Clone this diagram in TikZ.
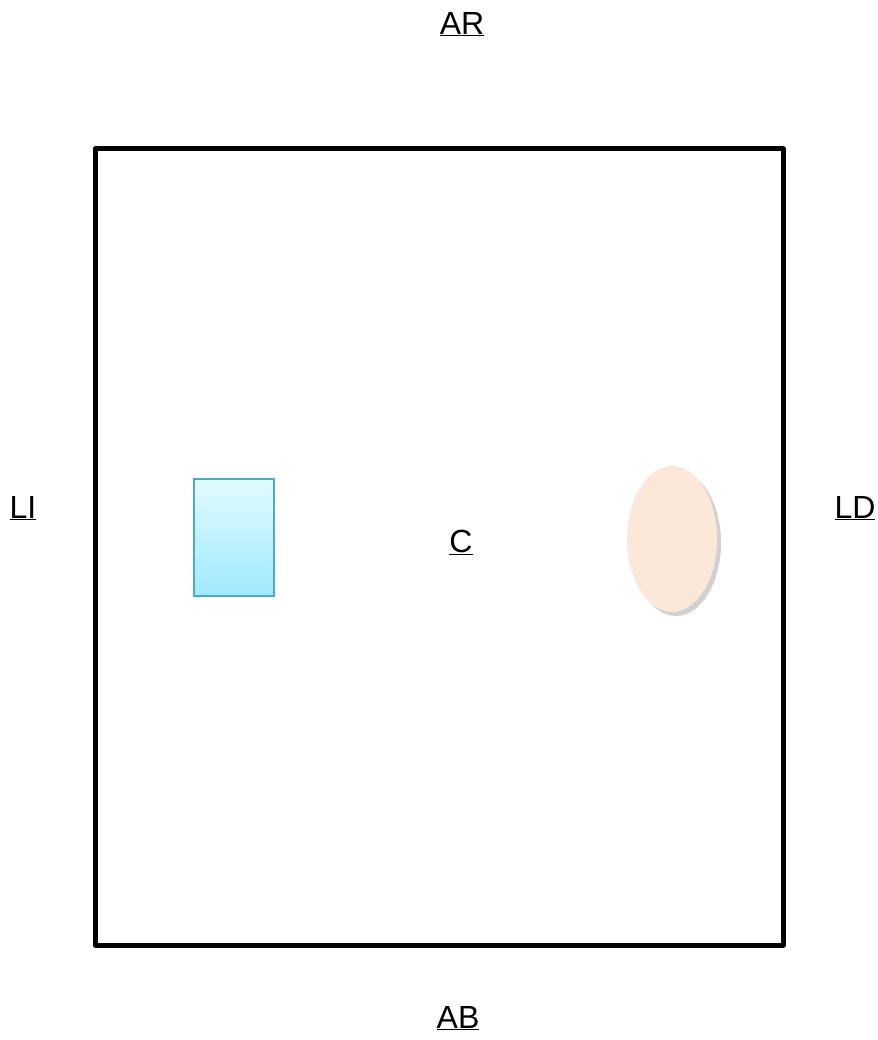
\documentclass[tikz,border=0pt]{standalone}
\usepackage{fontspec}
\setmainfont{Liberation Sans}
\usetikzlibrary{shapes.geometric,shadows}
\definecolor{sqline}{HTML}{4AADD0}
\definecolor{sqtop}{HTML}{E2FBFF}
\definecolor{sqbot}{HTML}{9FE9FC}
\definecolor{ovfill}{HTML}{FCE8D8}

\begin{document}
\begin{tikzpicture}[x=1pt,y=-1pt]
\tikzset{
  side/.style={font=\fontsize{32}{36}\selectfont, inner sep=0pt},
  frame/.style={rectangle, draw, line width=5pt, line join=round, minimum width=688pt, minimum height=796pt, inner sep=0pt},
  sq/.style={rectangle, draw=sqline, line width=1.5pt, top color=sqtop, bottom color=sqbot, minimum width=80pt, minimum height=117pt, inner sep=0pt},
  ov/.style={ellipse, fill=ovfill, minimum width=90pt, minimum height=146pt, inner sep=0pt,
    drop shadow={shadow xshift=4pt, shadow yshift=-4pt, opacity=.3, fill=black!60}}
}
\useasboundingbox (0,0) rectangle (877,1040);

% Frame and shapes
\node[frame] (box) at (439,547) {};
\node[sq] (cell) at (234,537.5) {};
\node[ov] (oval) at (672,539) {};

% Labels
\node[side] (ar) at (462,24) {\underline{AR}};
\node[side] (ab) at (458,1018) {\underline{AB}};
\node[side] (li) at (23,508) {\underline{LI}};
\node[side] (ld) at (855,508) {\underline{LD}};
\node[side] (c) at (461,542) {\underline{C}};
\end{tikzpicture}
\end{document}
